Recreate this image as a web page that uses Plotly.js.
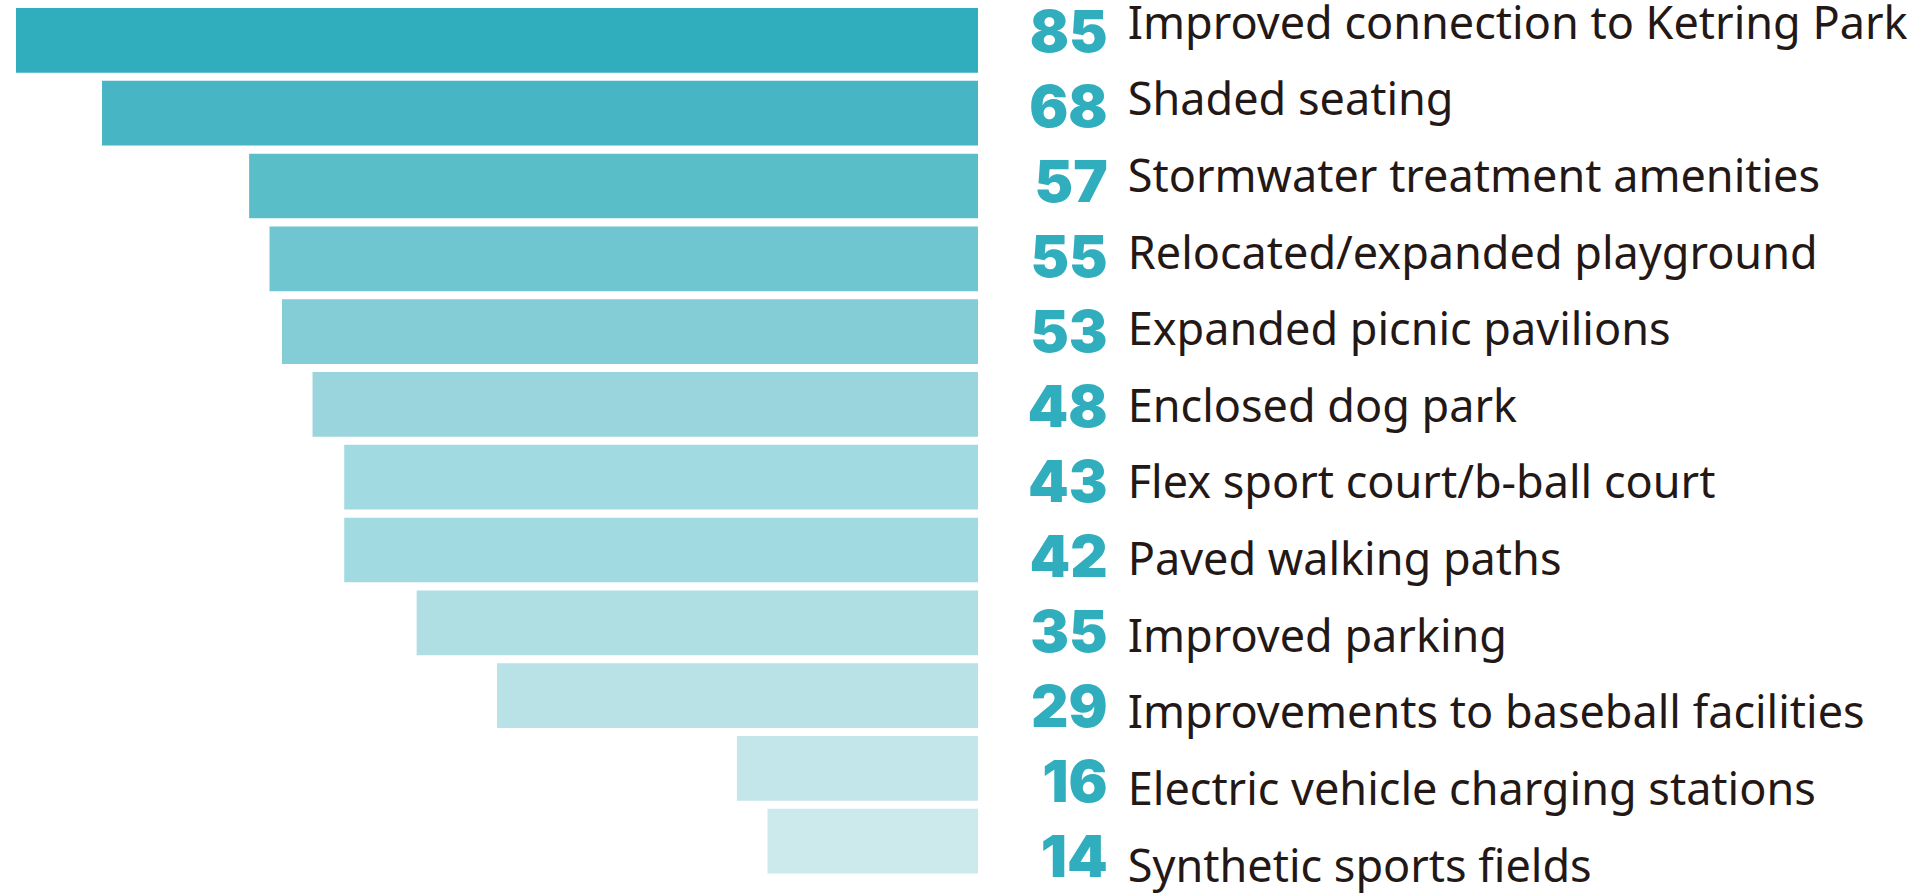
<!DOCTYPE html>
<html>
<head>
<meta charset="utf-8">
<script src="https://cdn.plot.ly/plotly-3.0.1.min.js"></script>
<style>
html,body{margin:0;padding:0;background:#ffffff;overflow:hidden}
#chart{width:1918px;height:894px}
</style>
</head>
<body>
<div id="chart"></div>
<script>
// ---- data ----
const categories = [
  "Improved connection to Ketring Park",
  "Shaded seating",
  "Stormwater treatment amenities",
  "Relocated/expanded playground",
  "Expanded picnic pavilions",
  "Enclosed dog park",
  "Flex sport court/b-ball court",
  "Paved walking paths",
  "Improved parking",
  "Improvements to baseball facilities",
  "Electric vehicle charging stations",
  "Synthetic sports fields"
];
// numbers printed beside each bar
const responses = [85, 68, 57, 55, 53, 48, 43, 42, 35, 29, 16, 14];
// drawn bar lengths as they appear in the graphic (same scale, top bar = 85)
const barLengths = [85, 77.4, 64.4, 62.6, 61.5, 58.8, 56.0, 56.0, 49.6, 42.5, 21.3, 18.6];
const barColors = [
  "#30AEBD", "#47B5C3", "#5ABEC9", "#6FC6D0", "#84CDD6", "#9AD5DD",
  "#A2DAE1", "#A2DAE1", "#AFDEE3", "#B8E2E6", "#C2E6EA", "#CCE9EC"
];

const numberColor = "#30AEBD";
const labelColor = "#231815";

const bars = {
  type: "bar",
  orientation: "h",
  x: barLengths,
  y: categories,
  marker: { color: barColors, line: { width: 0 } },
  xaxis: "x",
  yaxis: "y",
  hoverinfo: "skip",
  showlegend: false
};

const numbers = {
  type: "scatter",
  mode: "text",
  x: categories.map(() => 0.5775),
  y: categories,
  text: responses.map(String),
  textposition: "middle left",
  textfont: { family: "Inter, 'Liberation Sans', sans-serif", size: 58, weight: 900, color: numberColor },
  xaxis: "x2",
  yaxis: "y2",
  hoverinfo: "skip",
  showlegend: false,
  cliponaxis: false
};

const labels = {
  type: "scatter",
  mode: "text",
  x: categories.map(() => 0.588),
  y: categories,
  text: categories,
  textposition: "middle right",
  textfont: { family: "'Noto Sans', Lato, sans-serif", size: 45, color: labelColor },
  xaxis: "x2",
  yaxis: "y3",
  hoverinfo: "skip",
  showlegend: false,
  cliponaxis: false
};

const layout = {
  width: 1918,
  height: 894,
  margin: { l: 0, r: 0, t: 0, b: 0, pad: 0 },
  paper_bgcolor: "#ffffff",
  plot_bgcolor: "rgba(0,0,0,0)",
  bargap: 0.111,
  showlegend: false,
  xaxis: { domain: [0.00834, 0.50991], range: [85, 0], visible: false, fixedrange: true },
  yaxis: {
    type: "category", categoryorder: "array", categoryarray: categories,
    domain: [0.01835, 0.99553], range: [11.5, -0.5], visible: false, fixedrange: true
  },
  xaxis2: { domain: [0, 1], range: [0, 1], visible: false, anchor: "y2", fixedrange: true },
  yaxis2: {
    type: "category", categoryorder: "array", categoryarray: categories,
    domain: [0, 1], range: [11.424, -0.496], visible: false, anchor: "x2", fixedrange: true
  },
  yaxis3: {
    type: "category", categoryorder: "array", categoryarray: categories,
    domain: [0, 1], range: [11.307, -0.356], visible: false, anchor: "x2", fixedrange: true
  }
};

Plotly.newPlot("chart", [bars, numbers, labels], layout, { displayModeBar: false, staticPlot: true });
</script>
</body>
</html>
